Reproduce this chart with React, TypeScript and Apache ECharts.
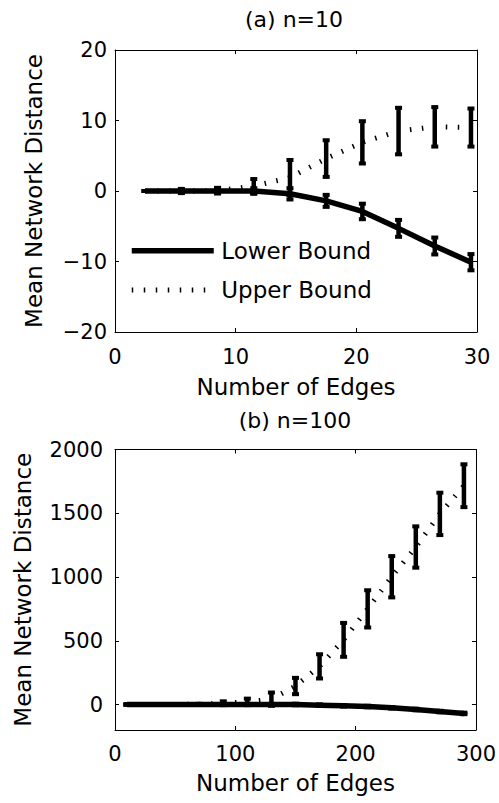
import React, { useEffect, useRef } from "react";
import * as echarts from "echarts";

// (a) n=10
const edgesA = [2.5, 5.5, 8.5, 11.5, 14.5, 17.5, 20.5, 23.5, 26.5, 29.5];
const lowerA = [0, 0, 0, 0, -0.4, -1.4, -2.9, -5.3, -7.8, -10.1];
const lowerErrA = [0, 0.3, 0.3, 0.4, 0.8, 0.85, 1.1, 1.2, 1.2, 1.15];
const upperA = [0, 0, 0.05, 0.7, 1.9, 4.6, 6.9, 8.5, 9.1, 9.0];
const upperErrA = [0, 0.1, 0.4, 1.0, 2.5, 2.6, 3.0, 3.3, 2.8, 2.7];

// (b) n=100
const edgesB = [10, 30, 50, 70, 90, 110, 130, 150, 170, 190, 210, 230, 250, 270, 290];
const lowerB = [0, 0, 0, 0, 0, 0, 0, 0, -5, -10, -16, -26, -39, -55, -70];
const lowerErrB = [0, 0, 0, 0, 3, 5, 5, 6, 6, 6, 6, 6, 6, 6, 6];
const upperB = [0, 0, 0, 2, 10, 21, 42, 145, 299, 507, 750, 1002, 1235, 1495, 1716];
const upperErrB = [0, 0, 0, 3, 15, 25, 52, 64, 95, 133, 146, 162, 162, 166, 168];

const ticksA_Y = [-20, -10, 0, 10, 20];
const ticksB_Y = [0, 500, 1000, 1500, 2000];

const FONT = "'DejaVu Sans', 'Liberation Sans', Arial, sans-serif";
const AXIS_COLOR = "#000";
const TICK_FS = 21;
const NAME_FS = 23;

function pairs(xs: number[], ys: number[]) {
  return xs.map((x, i) => [x, ys[i]]);
}
function errRows(xs: number[], ys: number[], es: number[]) {
  return xs.map((x, i) => [x, ys[i] - es[i], ys[i] + es[i]]);
}

const renderErr = (params: any, api: any) => {
  const x = api.value(0);
  const lo = api.value(1);
  const hi = api.value(2);
  const p1 = api.coord([x, hi]);
  const p2 = api.coord([x, lo]);
  const capW = 7;
  const capH = 4;
  return {
    type: "group",
    children: [
      {
        type: "line",
        shape: { x1: p1[0], y1: p1[1], x2: p2[0], y2: p2[1] },
        style: { stroke: "#000", lineWidth: 4.5 },
      },
      {
        type: "rect",
        shape: { x: p1[0] - capW / 2, y: p1[1] - capH / 2, width: capW, height: capH },
        style: { fill: "#000" },
      },
      {
        type: "rect",
        shape: { x: p2[0] - capW / 2, y: p2[1] - capH / 2, width: capW, height: capH },
        style: { fill: "#000" },
      },
    ],
  };
};

function xAxes(gridIndex: number, min: number, max: number, interval: number, labelMargin: number, nameGap: number) {
  const common = {
    gridIndex,
    type: "value",
    min,
    max,
    interval,
    splitLine: { show: false },
    axisLine: { show: true, onZero: false, lineStyle: { color: AXIS_COLOR, width: 1 } },
    axisTick: { show: true, inside: true, length: 4, lineStyle: { color: AXIS_COLOR } },
  };
  return [
    {
      ...common,
      position: "bottom",
      name: "Number of Edges",
      nameLocation: "middle",
      nameGap,
      nameTextStyle: { fontSize: NAME_FS, color: "#000", fontFamily: FONT },
      axisLabel: { show: true, fontSize: TICK_FS, color: "#000", fontFamily: FONT, margin: labelMargin },
    },
    { ...common, position: "top", axisLabel: { show: false } },
  ];
}

function yAxes(gridIndex: number, min: number, max: number, ticks: number[], labelMargin: number, nameGap: number) {
  const common = {
    gridIndex,
    type: "value",
    min,
    max,
    splitLine: { show: false },
    axisLine: { show: true, onZero: false, lineStyle: { color: AXIS_COLOR, width: 1 } },
    axisTick: { show: true, inside: true, length: 4, customValues: ticks, lineStyle: { color: AXIS_COLOR } },
  };
  return [
    {
      ...common,
      position: "left",
      name: "Mean Network Distance",
      nameLocation: "middle",
      nameGap,
      nameTextStyle: { fontSize: NAME_FS, color: "#000", fontFamily: FONT },
      axisLabel: {
        show: true,
        fontSize: TICK_FS,
        color: "#000",
        fontFamily: FONT,
        margin: labelMargin,
        customValues: ticks,
        formatter: (v: number) => (v < 0 ? "\u2212" + Math.abs(v) : String(v)),
      },
    },
    { ...common, position: "right", axisLabel: { show: false } },
  ];
}

export default function App() {
  const ref = useRef<HTMLDivElement>(null);
  useEffect(() => {
    if (!ref.current) return;
    const chart = echarts.init(ref.current, undefined, { renderer: "svg" });
    const solid = { color: "#000", width: 5.5, type: "solid", cap: "butt" };
    const dotted = { color: "#000", width: 5, type: [1.5, 10.5], cap: "butt" };
    chart.setOption({
      animation: false,
      backgroundColor: "#fff",
      color: ["#000"],
      title: [
        {
          text: "(a) n=10",
          left: 294,
          top: 8,
          textAlign: "center",
          padding: 0,
          textStyle: { fontSize: 22, fontWeight: "normal", color: "#000", fontFamily: FONT },
        },
        {
          text: "(b) n=100",
          left: 295,
          top: 409.5,
          textAlign: "center",
          padding: 0,
          textStyle: { fontSize: 22, fontWeight: "normal", color: "#000", fontFamily: FONT },
        },
      ],
      legend: {
        data: [
          { name: "Lower Bound", lineStyle: { width: 5.5 } },
          { name: "Upper Bound", lineStyle: { width: 5 } },
        ],
        orient: "vertical",
        left: 129,
        top: 239.2,
        padding: 0,
        itemWidth: 82,
        itemHeight: 23,
        itemGap: 16.3,
        selectedMode: false,
        itemStyle: { opacity: 0 },
        textStyle: { fontSize: NAME_FS, color: "#000", fontFamily: FONT, padding: [0, 0, 0, 2.5] },
      },
      grid: [
        { left: 115, top: 50, width: 362, height: 282 },
        { left: 115, top: 449.5, width: 362, height: 280.5 },
      ],
      xAxis: [
        ...xAxes(0, 0, 30, 10, 14, 43),
        ...xAxes(1, 0, 300, 100, 13, 41),
      ],
      yAxis: [
        ...yAxes(0, -20, 20, ticksA_Y, 8, 70),
        ...yAxes(1, -200, 2000, ticksB_Y, 12, 81),
      ],
      series: [
        {
          name: "Upper Bound",
          type: "line",
          xAxisIndex: 0,
          yAxisIndex: 0,
          data: pairs(edgesA, upperA),
          symbol: "none",
          itemStyle: { color: "#000" },
          lineStyle: dotted,
          z: 2,
        },
        {
          name: "Lower Bound",
          type: "line",
          xAxisIndex: 0,
          yAxisIndex: 0,
          data: pairs(edgesA, lowerA),
          symbol: "none",
          itemStyle: { color: "#000" },
          lineStyle: solid,
          z: 3,
        },
        {
          name: "Upper Bound error (n=10)",
          type: "custom",
          xAxisIndex: 0,
          yAxisIndex: 0,
          data: errRows(edgesA, upperA, upperErrA),
          encode: { x: 0, y: [1, 2] },
          renderItem: renderErr,
          z: 4,
        },
        {
          name: "Lower Bound error (n=10)",
          type: "custom",
          xAxisIndex: 0,
          yAxisIndex: 0,
          data: errRows(edgesA, lowerA, lowerErrA),
          encode: { x: 0, y: [1, 2] },
          renderItem: renderErr,
          z: 4,
        },
        {
          name: "Upper Bound (n=100)",
          type: "line",
          xAxisIndex: 2,
          yAxisIndex: 2,
          data: pairs(edgesB, upperB),
          symbol: "none",
          itemStyle: { color: "#000" },
          lineStyle: dotted,
          z: 2,
        },
        {
          name: "Lower Bound (n=100)",
          type: "line",
          xAxisIndex: 2,
          yAxisIndex: 2,
          data: pairs(edgesB, lowerB),
          symbol: "none",
          itemStyle: { color: "#000" },
          lineStyle: solid,
          z: 3,
        },
        {
          name: "Upper Bound error (n=100)",
          type: "custom",
          xAxisIndex: 2,
          yAxisIndex: 2,
          data: errRows(edgesB, upperB, upperErrB),
          encode: { x: 0, y: [1, 2] },
          renderItem: renderErr,
          z: 4,
        },
        {
          name: "Lower Bound error (n=100)",
          type: "custom",
          xAxisIndex: 2,
          yAxisIndex: 2,
          data: errRows(edgesB, lowerB, lowerErrB),
          encode: { x: 0, y: [1, 2] },
          renderItem: renderErr,
          z: 4,
        },
      ],
    });
    return () => chart.dispose();
  }, []);
  return (
    <div
      ref={ref}
      style={{ position: "fixed", left: 0, top: 0, width: 499, height: 803, background: "#fff" }}
    />
  );
}
